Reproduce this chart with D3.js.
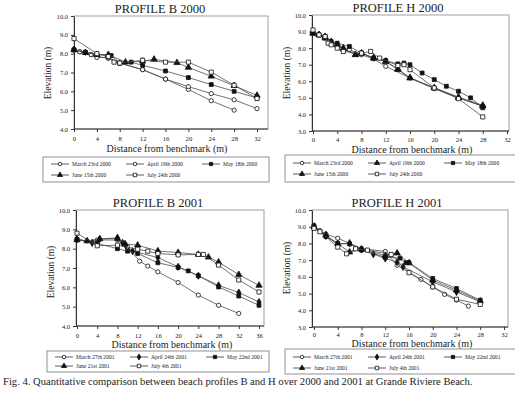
<!DOCTYPE html>
<html>
<head>
<meta charset="utf-8">
<script src="https://cdn.jsdelivr.net/npm/d3@7"></script>
<style>
body{margin:0;background:#fff;}
svg text{font-family:"Liberation Serif","DejaVu Serif",serif !important;fill:#222;font-weight:normal;}
</style>
</head>
<body>
<svg id="fig" width="515" height="397"></svg>
<script>
// ---- data: [distance (m), elevation (m)]
var xTicksB2000=[0,4,8,12,16,20,24,28,32];
var xTicksH=[0,4,8,12,16,20,24,28,32];
var xTicksB2001=[0,4,8,12,16,20,24,28,32,36];
var yTicksB=[4,5,6,7,8,9,10];
var yTicksH=[3,4,5,6,7,8,9,10];

var labels2000=["March 23rd 2000","April 19th 2000","May 18th 2000","June 15th 2000","July 24th 2000"];
var labels2001=["March 27th 2001","April 24th 2001","May 22nd 2001","June 21st 2001","July 4th 2001"];

var b2000Mar=[[0,8.2],[1,8.1],[2,8.05],[3,7.95],[4,7.85],[6,7.75],[8,7.5],[12,7.15],[16,6.65],[20,6.1],[24,5.5],[28,5.0]];
var b2000Apr=[[0,8.25],[1,8.1],[2,8.05],[3,7.95],[4,7.8],[6,7.8],[8,7.5],[12,7.15],[16,6.65],[20,6.25],[24,5.88],[28,5.55],[32,5.08]];
var b2000May=[[0,8.2],[2,8.08],[4,7.95],[6.5,7.9],[8,7.5],[10,7.55],[12,7.38],[16,7.08],[20,6.73],[24,6.36],[28,6.0],[32,5.65]];
var b2000Jun=[[0,8.2],[2,8.05],[4,7.95],[6,7.95],[9,7.55],[12,7.6],[14,7.7],[18,7.52],[20,7.27],[24,6.8],[28,6.3],[32,5.78]];
var b2000Jul=[[0,8.8],[4,8.0],[6,7.85],[7,7.55],[8,7.5],[12,7.65],[16,7.55],[20,7.55],[24,7.02],[28,6.32],[32,5.62]];

var h2000Mar=[[0,8.9],[1,8.8],[2,8.6],[3,8.3],[4,8.1],[6,7.9],[8,7.6],[10,7.35],[12,6.9],[16,6.2],[20,5.55],[24,5.0],[28,4.5]];
var h2000Apr=[[0,8.9],[1,8.8],[2,8.7],[3,8.4],[4,8.2],[5,7.95],[7,7.6],[8,7.7],[10,7.4],[12,7.2],[14,6.7],[16,6.2],[20,5.6],[24,5.0],[28,4.5]];
var h2000May=[[0,8.9],[1,8.8],[2,8.7],[3,8.4],[4,8.3],[6,8.1],[8,7.7],[10,7.4],[12,7.25],[14,7.05],[15,7.1],[16,7.0],[18,6.5],[20,6.1],[22,5.7],[24,5.4],[26,5.0],[28,4.4]];
var h2000Jun=[[0,8.9],[1,8.8],[2,8.6],[4,8.2],[5,8.0],[7,7.6],[8,7.7],[10,7.4],[12,7.2],[14,6.75],[16,6.2],[20,5.6],[24,5.05],[28,4.55]];
var h2000Jul=[[0,9.1],[1,8.8],[2,8.7],[2.5,8.3],[3,8.2],[4,8.0],[5,7.8],[8,7.7],[9.5,7.8],[11,7.4],[14,6.95],[15,7.0],[16,6.7],[20,5.6],[24,4.95],[28,3.85]];

var b2001Mar=[[0,8.5],[2,8.4],[4,8.45],[8,8.45],[10,8.1],[12.4,7.35],[14,7.1],[16,6.8],[20,6.25],[24,5.6],[28,5.07],[32,4.65]];
var b2001Apr=[[0,8.48],[3,8.3],[4.5,8.5],[8,8.56],[9,8.3],[9.6,8.18],[11,7.87],[16,7.54],[20,7.06],[24,6.6],[28,6.1],[32,5.73],[36,5.24]];
var b2001May=[[0,8.48],[4,8.27],[8,8.0],[10,7.87],[12,7.75],[16,7.27],[20,7.03],[22,6.85],[24,6.6],[28,6.02],[32,5.55],[36,5.07]];
var b2001Jun=[[0,8.45],[2,8.4],[4.5,8.5],[8,8.53],[9.5,8.25],[12,8.18],[16,7.88],[20,7.8],[24,7.7],[26,7.56],[28,7.3],[32,6.66],[36,6.1]];
var b2001Jul=[[0,8.8],[4,8.15],[8,8.18],[12,7.97],[14,7.87],[16,7.75],[20,7.68],[24,7.7],[25,7.7],[28,7.15],[32,6.38],[36,5.76]];

var h2001Mar=[[0,9.1],[1,8.77],[2,8.57],[4,8.31],[8,7.7],[12,7.52],[14,6.69],[18,5.85],[20,5.4],[22,4.95],[24,4.62],[26,4.25]];
var h2001Apr=[[0,9.0],[2,8.45],[4,7.95],[6,8.02],[8,7.64],[10,7.36],[12,7.1],[14,6.88],[15,6.6],[20,5.7],[24,5.1],[28,4.5]];
var h2001May=[[0,9.0],[2,8.41],[4,8.0],[6,7.97],[8,7.6],[12,7.18],[14.5,7.12],[15.5,6.85],[16,6.85],[20,5.9],[24,5.3],[28,4.6]];
var h2001Jun=[[0,9.0],[2,8.5],[4,7.98],[6,7.48],[8,7.65],[12,7.28],[14,7.42],[16,6.83],[20,5.8],[24,5.2],[28,4.55]];
var h2001Jul=[[0,8.9],[1,8.7],[4,7.78],[5.5,7.38],[7,7.68],[9,7.6],[13,7.34],[16,6.25],[20,5.4],[24,4.66],[28,4.35]];

var svg=d3.select("#fig");
var SERIF='"Liberation Serif","DejaVu Serif",serif';

function marker(sel,type,scale){
	var sym={ocircle:d3.symbolCircle,square:d3.symbolSquare,osquare:d3.symbolSquare,
		triangle:d3.symbolTriangle,diamond:d3.symbolDiamond}[type];
	var size={ocircle:14,square:15,osquare:17,triangle:17,diamond:15}[type]*(scale||1);
	var open=(type=="ocircle"||type=="osquare");
	return sel.append("path")
		.attr("d",d3.symbol().type(sym).size(size)())
		.attr("fill",open?"#fff":"#111")
		.attr("stroke","#111")
		.attr("stroke-width",0.8);
}

function drawPanel(p){
	var x=d3.scaleLinear().domain([0,p.xAt[1]]).range([p.xAt[0],p.xAt[2]]);
	var y=d3.scaleLinear().domain(p.yDomain).range([p.bottom,p.top]);
	var g=svg.append("g");

	//frame
	g.append("rect").attr("x",p.left).attr("y",p.top)
		.attr("width",p.right-p.left).attr("height",p.bottom-p.top)
		.attr("fill","none").attr("stroke","#888").attr("stroke-width",0.8);

	var xa=g.append("g").attr("transform","translate(0,"+p.bottom+")")
		.call(d3.axisBottom(x).tickValues(p.xTicks).tickSize(3).tickSizeOuter(0).tickPadding(p.xPad||4));
	xa.select(".domain").attr("d","M"+p.left+",0H"+p.right).attr("stroke","#333");
	var ya=g.append("g").attr("transform","translate("+p.left+",0)")
		.call(d3.axisLeft(y).tickValues(p.yTicks).tickFormat(d3.format(".1f")).tickSize(3).tickSizeOuter(0).tickPadding(3));
	ya.select(".domain").attr("stroke","#333");
	xa.attr("font-family",SERIF).attr("font-size",6.6);
	ya.attr("font-family",SERIF).attr("font-size",6.5);
	g.selectAll(".tick line").attr("stroke","#333");

	//titles
	g.append("text").attr("x",p.title[1]).attr("y",p.title[2]).attr("text-anchor","middle")
		.style("font-size","12.5px").text(p.title[0]);
	g.append("text").attr("x",p.xTitle[0]).attr("y",p.xTitle[1]).attr("text-anchor","middle")
		.style("font-size","10px").text("Distance from benchmark (m)");
	g.append("text").attr("transform","translate("+p.yTitle[0]+","+p.yTitle[1]+") rotate(-90)")
		.attr("text-anchor","middle").style("font-size","9.5px").text("Elevation (m)");

	//series
	var line=d3.line().x(function(d){return x(d[0]);}).y(function(d){return y(d[1]);});
	p.series.forEach(function(s){
		g.append("path").datum(s.data).attr("d",line)
			.attr("fill","none").attr("stroke","#444").attr("stroke-width",0.75);
		g.selectAll(null).data(s.data).enter().append("g")
			.attr("transform",function(d){return "translate("+x(d[0])+","+y(d[1])+")";})
			.each(function(){marker(d3.select(this),s.marker);});
	});

	//legend
	var L=p.legend;
	g.append("rect").attr("x",L.x).attr("y",L.y).attr("width",L.w).attr("height",L.h)
		.attr("fill","#fff").attr("stroke","#777").attr("stroke-width",0.8);
	var cols=[8,83,159];
	p.series.forEach(function(s,i){
		var lx=L.x+cols[i%3], ly=L.rows[Math.floor(i/3)];
		var it=g.append("g").attr("transform","translate("+lx+","+ly+")");
		it.append("line").attr("x1",0).attr("x2",18).attr("y1",0).attr("y2",0)
			.attr("stroke","#333").attr("stroke-width",0.8);
		marker(it.append("g").attr("transform","translate(9,0)"),s.marker,0.7);
		it.append("text").attr("x",21).attr("y",2).style("font-size","5.6px").text(s.label);
	});
}

function mk(datas,labels,markers){
	return datas.map(function(d,i){return {data:d,label:labels[i],marker:markers[i]};});
}

drawPanel({left:74,right:268,top:16,bottom:129,xAt:[74,32,257],yDomain:[4,10],
	xTicks:xTicksB2000,yTicks:yTicksB,title:["PROFILE B  2000",160,13],xTitle:[167,152],yTitle:[51,73],
	legend:{x:43,y:157,w:226,h:25,rows:[164,175]},
	series:mk([b2000Mar,b2000Apr,b2000May,b2000Jun,b2000Jul],labels2000,["ocircle","ocircle","square","triangle","osquare"])});

drawPanel({left:312,right:509,top:15,bottom:131,xAt:[313,32,507],yDomain:[3,10],
	xTicks:xTicksH,yTicks:yTicksH,title:["PROFILE H  2000",398,12],xTitle:[412,153],yTitle:[290,73],xPad:3,
	legend:{x:285,y:155,w:240,h:27,rows:[163,174]},
	series:mk([h2000Mar,h2000Apr,h2000May,h2000Jun,h2000Jul],labels2000,["ocircle","triangle","square","triangle","osquare"])});

drawPanel({left:76,right:264,top:210,bottom:326,xAt:[77,36,259],yDomain:[4,10],
	xTicks:xTicksB2001,yTicks:yTicksB,title:["PROFILE B  2001",158,207],xTitle:[172,348],yTitle:[54,272],
	legend:{x:47,y:351,w:222,h:21,rows:[357,366]},
	series:mk([b2001Mar,b2001Apr,b2001May,b2001Jun,b2001Jul],labels2001,["ocircle","diamond","square","triangle","osquare"])});

drawPanel({left:312,right:508,top:210,bottom:327,xAt:[314,32,504],yDomain:[3,10],xPad:2,
	xTicks:xTicksH,yTicks:yTicksH,title:["PROFILE H 2001",397,207],xTitle:[412,347],yTitle:[290,268],
	legend:{x:285,y:349,w:240,h:25,rows:[357,368]},
	series:mk([h2001Mar,h2001Apr,h2001May,h2001Jun,h2001Jul],labels2001,["ocircle","diamond","square","triangle","osquare"])});

//caption
svg.append("text").attr("x",3).attr("y",385).style("font-size","10.6px")
	.text("Fig. 4. Quantitative comparison between beach profiles B and H over 2000 and 2001 at Grande Riviere Beach.");
</script>
</body>
</html>
